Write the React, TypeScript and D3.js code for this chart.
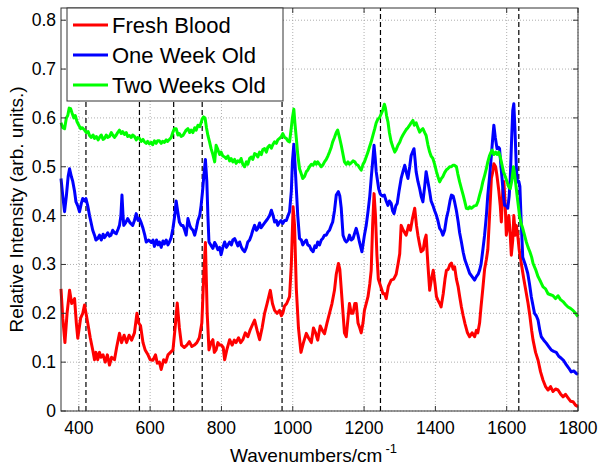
import React from 'react';
import * as d3 from 'd3';

const xTicks = [400, 600, 800, 1000, 1200, 1400, 1600, 1800];
const yTicks = [0, 0.1, 0.2, 0.3, 0.4, 0.5, 0.6, 0.7, 0.8];
const markerLines = [420, 570, 666, 746, 970, 1246, 1634];
const seriesNames = ['Fresh Blood', 'One Week Old', 'Two Weeks Old'];
const seriesColors = ['#ff0000', '#0000ff', '#00ff00'];

const freshBlood: [number, number][] = [[350,0.25],[355,0.19],[361,0.14],[367,0.2],[374,0.247],[380,0.22],[388,0.23],[393,0.18],[397,0.149],[405,0.19],[411,0.2],[416,0.217],[425,0.18],[432,0.15],[439,0.125],[444,0.105],[448,0.12],[453,0.105],[458,0.12],[462,0.11],[468,0.115],[474,0.1],[480,0.115],[486,0.094],[492,0.11],[500,0.105],[506,0.13],[514,0.159],[520,0.14],[527,0.155],[534,0.14],[541,0.155],[548,0.145],[556,0.16],[563,0.2],[568,0.18],[573,0.175],[580,0.14],[586,0.125],[594,0.115],[600,0.105],[608,0.104],[615,0.115],[620,0.098],[626,0.1],[631,0.085],[638,0.105],[644,0.1],[650,0.115],[657,0.12],[664,0.125],[670,0.17],[676,0.221],[682,0.17],[688,0.135],[696,0.13],[703,0.135],[710,0.142],[717,0.132],[724,0.135],[731,0.14],[738,0.15],[745,0.18],[750,0.27],[755,0.345],[760,0.2],[765,0.125],[771,0.14],[776,0.146],[780,0.12],[785,0.125],[790,0.14],[795,0.135],[800,0.135],[805,0.13],[809,0.105],[815,0.125],[823,0.146],[830,0.135],[836,0.145],[841,0.14],[848,0.15],[854,0.14],[860,0.146],[867,0.16],[874,0.152],[880,0.165],[886,0.175],[893,0.186],[900,0.165],[907,0.146],[914,0.17],[921,0.2],[928,0.22],[937,0.247],[943,0.22],[949,0.206],[956,0.2],[963,0.206],[968,0.195],[972,0.2],[977,0.215],[983,0.22],[991,0.234],[996,0.3],[1001,0.418],[1005,0.38],[1010,0.25],[1016,0.17],[1023,0.12],[1030,0.14],[1038,0.159],[1044,0.15],[1052,0.14],[1058,0.17],[1064,0.16],[1070,0.145],[1077,0.174],[1083,0.165],[1089,0.158],[1096,0.18],[1103,0.2],[1110,0.22],[1117,0.247],[1122,0.28],[1128,0.302],[1132,0.29],[1136,0.25],[1141,0.2],[1145,0.16],[1150,0.152],[1155,0.19],[1159,0.22],[1164,0.2],[1169,0.2],[1174,0.22],[1178,0.22],[1183,0.18],[1188,0.17],[1192,0.16],[1197,0.18],[1201,0.206],[1206,0.22],[1211,0.234],[1216,0.26],[1220,0.288],[1224,0.38],[1228,0.445],[1232,0.4],[1236,0.32],[1240,0.27],[1244,0.261],[1249,0.25],[1253,0.24],[1258,0.24],[1262,0.23],[1268,0.255],[1276,0.268],[1283,0.27],[1290,0.28],[1295,0.3],[1300,0.322],[1304,0.38],[1310,0.37],[1318,0.36],[1325,0.38],[1330,0.37],[1336,0.395],[1342,0.415],[1347,0.38],[1351,0.36],[1356,0.34],[1360,0.326],[1366,0.33],[1370,0.35],[1374,0.36],[1379,0.3],[1384,0.247],[1389,0.27],[1394,0.288],[1399,0.26],[1403,0.234],[1407,0.227],[1412,0.22],[1416,0.213],[1422,0.24],[1427,0.27],[1431,0.288],[1436,0.29],[1441,0.3],[1445,0.303],[1450,0.29],[1454,0.295],[1459,0.27],[1464,0.254],[1468,0.235],[1473,0.213],[1478,0.195],[1483,0.179],[1490,0.16],[1496,0.152],[1503,0.16],[1510,0.152],[1515,0.165],[1519,0.16],[1524,0.18],[1528,0.213],[1533,0.25],[1538,0.29],[1543,0.31],[1547,0.33],[1552,0.4],[1557,0.476],[1561,0.49],[1564,0.506],[1569,0.5],[1573,0.48],[1578,0.45],[1582,0.42],[1585,0.387],[1589,0.45],[1592,0.47],[1596,0.42],[1599,0.36],[1603,0.38],[1606,0.4],[1610,0.36],[1613,0.319],[1617,0.35],[1620,0.4],[1624,0.36],[1627,0.38],[1631,0.36],[1635,0.33],[1641,0.302],[1648,0.27],[1655,0.241],[1660,0.22],[1665,0.195],[1670,0.165],[1674,0.145],[1681,0.12],[1688,0.104],[1695,0.08],[1702,0.063],[1709,0.05],[1716,0.043],[1723,0.05],[1730,0.04],[1737,0.045],[1744,0.043],[1751,0.035],[1758,0.029],[1765,0.034],[1772,0.027],[1779,0.02],[1786,0.019],[1793,0.012],[1800,0.009]];

const oneWeekOld: [number, number][] = [[350,0.476],[355,0.44],[360,0.408],[365,0.44],[370,0.48],[374,0.496],[379,0.48],[383,0.47],[388,0.45],[392,0.428],[397,0.42],[402,0.408],[407,0.425],[411,0.435],[416,0.43],[420,0.435],[425,0.42],[430,0.4],[434,0.387],[439,0.37],[444,0.36],[448,0.35],[453,0.353],[458,0.36],[463,0.35],[468,0.362],[472,0.355],[477,0.36],[481,0.365],[486,0.358],[490,0.36],[495,0.37],[500,0.365],[505,0.363],[510,0.372],[514,0.38],[518,0.4],[521,0.442],[524,0.4],[526,0.38],[531,0.385],[537,0.394],[544,0.385],[551,0.38],[556,0.39],[561,0.404],[566,0.39],[570,0.394],[575,0.385],[580,0.374],[585,0.36],[589,0.346],[596,0.35],[603,0.345],[608,0.35],[612,0.337],[618,0.35],[622,0.34],[626,0.346],[631,0.335],[636,0.348],[640,0.342],[645,0.35],[650,0.34],[654,0.346],[659,0.355],[664,0.374],[669,0.4],[673,0.43],[677,0.41],[682,0.387],[687,0.38],[692,0.38],[697,0.37],[701,0.36],[706,0.394],[711,0.38],[715,0.374],[720,0.37],[725,0.36],[730,0.375],[734,0.39],[739,0.4],[743,0.421],[747,0.45],[750,0.476],[755,0.515],[759,0.47],[762,0.4],[765,0.346],[770,0.34],[776,0.333],[781,0.345],[785,0.34],[790,0.33],[795,0.335],[799,0.32],[804,0.335],[809,0.346],[814,0.335],[818,0.34],[823,0.346],[828,0.34],[832,0.35],[837,0.353],[842,0.345],[846,0.338],[851,0.346],[856,0.335],[860,0.33],[865,0.326],[870,0.335],[874,0.346],[879,0.35],[884,0.36],[888,0.37],[893,0.38],[898,0.37],[902,0.374],[907,0.385],[911,0.375],[916,0.38],[921,0.385],[926,0.39],[930,0.394],[935,0.4],[940,0.411],[945,0.4],[949,0.387],[954,0.39],[958,0.38],[963,0.387],[967,0.39],[972,0.384],[977,0.39],[982,0.39],[987,0.4],[991,0.408],[996,0.45],[999,0.51],[1003,0.546],[1006,0.51],[1010,0.455],[1014,0.4],[1019,0.353],[1024,0.35],[1028,0.34],[1033,0.346],[1038,0.35],[1042,0.34],[1047,0.338],[1052,0.33],[1057,0.326],[1062,0.338],[1066,0.335],[1070,0.346],[1075,0.34],[1080,0.35],[1084,0.353],[1089,0.36],[1094,0.36],[1099,0.367],[1103,0.37],[1108,0.38],[1112,0.387],[1117,0.41],[1122,0.442],[1128,0.449],[1132,0.44],[1136,0.415],[1141,0.36],[1146,0.35],[1150,0.346],[1155,0.35],[1159,0.36],[1164,0.35],[1169,0.353],[1174,0.365],[1178,0.374],[1183,0.36],[1187,0.346],[1194,0.326],[1201,0.36],[1206,0.38],[1211,0.408],[1216,0.44],[1220,0.476],[1224,0.51],[1228,0.544],[1231,0.52],[1234,0.49],[1238,0.47],[1241,0.455],[1245,0.445],[1248,0.442],[1252,0.44],[1257,0.442],[1262,0.43],[1267,0.421],[1271,0.43],[1276,0.425],[1280,0.41],[1284,0.404],[1289,0.42],[1293,0.425],[1298,0.45],[1304,0.476],[1309,0.49],[1314,0.503],[1318,0.49],[1323,0.476],[1328,0.5],[1332,0.523],[1336,0.53],[1340,0.537],[1343,0.515],[1346,0.49],[1351,0.47],[1356,0.455],[1360,0.44],[1365,0.428],[1370,0.46],[1374,0.49],[1379,0.47],[1384,0.449],[1388,0.43],[1393,0.421],[1398,0.41],[1403,0.4],[1407,0.39],[1412,0.374],[1416,0.37],[1421,0.36],[1426,0.37],[1431,0.394],[1436,0.41],[1441,0.43],[1445,0.442],[1450,0.44],[1454,0.428],[1459,0.41],[1464,0.387],[1468,0.365],[1473,0.346],[1478,0.325],[1483,0.309],[1490,0.295],[1496,0.282],[1503,0.275],[1510,0.268],[1515,0.275],[1520,0.28],[1524,0.288],[1528,0.3],[1533,0.329],[1538,0.36],[1543,0.4],[1547,0.442],[1552,0.48],[1557,0.523],[1561,0.56],[1564,0.585],[1568,0.56],[1573,0.537],[1577,0.54],[1580,0.537],[1584,0.5],[1587,0.476],[1591,0.44],[1594,0.421],[1599,0.42],[1603,0.415],[1607,0.44],[1610,0.476],[1614,0.56],[1617,0.615],[1620,0.629],[1623,0.58],[1627,0.5],[1630,0.469],[1634,0.47],[1637,0.46],[1640,0.4],[1645,0.315],[1652,0.3],[1659,0.282],[1664,0.26],[1669,0.234],[1674,0.215],[1678,0.2],[1683,0.195],[1688,0.186],[1693,0.165],[1697,0.152],[1704,0.145],[1711,0.139],[1718,0.132],[1725,0.125],[1732,0.122],[1739,0.12],[1746,0.112],[1753,0.108],[1760,0.103],[1767,0.095],[1774,0.088],[1781,0.08],[1788,0.082],[1795,0.077],[1800,0.075]];

const twoWeeksOld: [number, number][] = [[350,0.59],[355,0.58],[360,0.578],[365,0.6],[369,0.605],[373,0.62],[377,0.619],[381,0.61],[386,0.6],[390,0.605],[395,0.592],[400,0.585],[405,0.578],[410,0.58],[416,0.575],[421,0.57],[426,0.572],[430,0.564],[435,0.56],[440,0.565],[444,0.558],[449,0.562],[454,0.555],[458,0.56],[463,0.565],[468,0.556],[472,0.558],[477,0.565],[481,0.56],[486,0.562],[491,0.57],[495,0.565],[500,0.56],[505,0.565],[509,0.57],[514,0.575],[519,0.568],[523,0.572],[528,0.566],[533,0.57],[537,0.562],[542,0.564],[547,0.56],[551,0.565],[556,0.562],[561,0.555],[565,0.56],[570,0.558],[575,0.552],[580,0.556],[584,0.551],[589,0.548],[593,0.552],[598,0.547],[603,0.55],[607,0.545],[612,0.553],[617,0.548],[621,0.553],[626,0.553],[631,0.548],[635,0.552],[640,0.55],[645,0.555],[649,0.552],[654,0.556],[659,0.56],[664,0.571],[668,0.578],[673,0.578],[678,0.565],[682,0.568],[687,0.562],[692,0.564],[697,0.57],[701,0.575],[706,0.578],[711,0.57],[715,0.575],[720,0.57],[725,0.58],[729,0.575],[734,0.585],[739,0.582],[743,0.59],[746,0.598],[750,0.602],[754,0.6],[758,0.58],[762,0.564],[767,0.55],[771,0.537],[776,0.525],[781,0.51],[785,0.544],[790,0.535],[795,0.525],[799,0.53],[804,0.522],[809,0.52],[813,0.517],[818,0.522],[823,0.512],[827,0.517],[832,0.51],[837,0.515],[841,0.507],[846,0.512],[851,0.51],[855,0.517],[860,0.505],[865,0.5],[870,0.51],[874,0.505],[879,0.517],[884,0.52],[888,0.515],[893,0.527],[898,0.525],[902,0.52],[907,0.53],[912,0.525],[916,0.535],[921,0.537],[926,0.53],[930,0.54],[935,0.544],[940,0.538],[944,0.545],[949,0.551],[954,0.548],[958,0.555],[963,0.558],[968,0.562],[972,0.568],[977,0.56],[982,0.558],[986,0.553],[991,0.551],[996,0.58],[999,0.6],[1003,0.618],[1006,0.59],[1010,0.558],[1014,0.525],[1019,0.496],[1024,0.485],[1028,0.476],[1033,0.48],[1038,0.49],[1042,0.493],[1047,0.5],[1052,0.505],[1057,0.503],[1062,0.51],[1066,0.505],[1070,0.51],[1075,0.505],[1080,0.5],[1084,0.503],[1089,0.51],[1094,0.515],[1099,0.523],[1103,0.53],[1108,0.54],[1112,0.551],[1117,0.56],[1122,0.57],[1126,0.575],[1131,0.56],[1136,0.544],[1141,0.525],[1145,0.51],[1150,0.505],[1155,0.51],[1159,0.505],[1164,0.508],[1169,0.512],[1174,0.51],[1178,0.505],[1183,0.503],[1188,0.497],[1192,0.493],[1197,0.505],[1201,0.51],[1206,0.52],[1211,0.53],[1215,0.54],[1220,0.551],[1225,0.565],[1230,0.578],[1234,0.59],[1239,0.598],[1243,0.6],[1248,0.608],[1252,0.615],[1257,0.628],[1260,0.62],[1263,0.605],[1267,0.592],[1271,0.57],[1276,0.551],[1281,0.54],[1286,0.53],[1290,0.535],[1295,0.544],[1300,0.55],[1304,0.558],[1309,0.565],[1314,0.571],[1318,0.576],[1323,0.58],[1328,0.585],[1332,0.59],[1337,0.595],[1341,0.585],[1346,0.59],[1351,0.58],[1356,0.571],[1360,0.575],[1365,0.578],[1370,0.57],[1374,0.564],[1379,0.545],[1384,0.53],[1388,0.522],[1393,0.517],[1398,0.505],[1403,0.49],[1407,0.48],[1412,0.469],[1416,0.475],[1421,0.48],[1426,0.488],[1431,0.494],[1435,0.496],[1440,0.5],[1445,0.5],[1449,0.503],[1454,0.503],[1459,0.5],[1463,0.485],[1468,0.469],[1473,0.455],[1478,0.442],[1482,0.43],[1487,0.415],[1492,0.414],[1496,0.418],[1501,0.415],[1506,0.418],[1510,0.42],[1515,0.421],[1520,0.43],[1524,0.442],[1529,0.455],[1533,0.469],[1538,0.482],[1543,0.496],[1547,0.51],[1552,0.523],[1556,0.53],[1559,0.534],[1564,0.525],[1569,0.53],[1573,0.525],[1578,0.53],[1582,0.52],[1585,0.51],[1588,0.5],[1591,0.49],[1596,0.48],[1601,0.469],[1605,0.46],[1610,0.455],[1614,0.47],[1619,0.5],[1623,0.48],[1627,0.455],[1631,0.43],[1636,0.4],[1640,0.385],[1645,0.374],[1650,0.36],[1655,0.346],[1660,0.335],[1665,0.326],[1670,0.315],[1674,0.302],[1681,0.29],[1688,0.275],[1695,0.265],[1702,0.254],[1709,0.25],[1716,0.24],[1723,0.238],[1730,0.236],[1737,0.23],[1744,0.236],[1751,0.228],[1758,0.224],[1765,0.218],[1772,0.213],[1779,0.21],[1786,0.206],[1793,0.2],[1800,0.193]];

const seriesData = [freshBlood, oneWeekOld, twoWeeksOld];

const W = 604;
const H = 469;
const margin = { left: 61, right: 26, top: 8, bottom: 58 };
const FONT = "'Liberation Sans', Arial, Helvetica, sans-serif";

export default function App() {
  const x = d3.scaleLinear().domain([350, 1800]).range([margin.left, W - margin.right]);
  const y = d3.scaleLinear().domain([0, 0.825]).range([H - margin.bottom, margin.top]);
  const line = d3
    .line<[number, number]>()
    .x((d) => x(d[0]))
    .y((d) => y(d[1]));
  const x0 = margin.left;
  const x1 = W - margin.right;
  const y0 = H - margin.bottom;
  const y1 = margin.top;
  const fmt = (v: number) => (v === 0 ? '0' : d3.format('.1f')(v));

  const legX = x0 + 6;
  const legW = 216;
  const legH = 93;

  return (
    <svg
      width={W}
      height={H}
      style={{ position: 'absolute', left: 0, top: 0, background: '#fff' }}
      fontFamily={FONT}
    >
      <rect x={0} y={0} width={W} height={H} fill="#fff" />
      {/* grid */}
      {xTicks.map((t) => (
        <line key={'gx' + t} x1={x(t)} x2={x(t)} y1={y0} y2={y1} stroke="#9a9a9a" strokeWidth={0.8} strokeDasharray="1,2" />
      ))}
      {yTicks.map((t) => (
        <line key={'gy' + t} x1={x0} x2={x1} y1={y(t)} y2={y(t)} stroke="#9a9a9a" strokeWidth={0.8} strokeDasharray="1,2" />
      ))}
      {/* dashed marker lines */}
      {markerLines.map((m) => (
        <line key={'m' + m} x1={x(m)} x2={x(m)} y1={y0} y2={y1} stroke="#000" strokeWidth={1.2} strokeDasharray="5,3" />
      ))}
      {/* series */}
      {seriesData.map((s, i) => (
        <path key={seriesNames[i]} d={line(s) || ''} fill="none" stroke={seriesColors[i]} strokeWidth={3} strokeLinejoin="round" />
      ))}
      {/* frame */}
      <rect x={x0} y={y1} width={x1 - x0} height={y0 - y1} fill="none" stroke="#333" strokeWidth={1} />
      {/* ticks */}
      {xTicks.map((t) => (
        <g key={'tx' + t}>
          <line x1={x(t)} x2={x(t)} y1={y0} y2={y0 - 5} stroke="#333" />
          <line x1={x(t)} x2={x(t)} y1={y1} y2={y1 + 5} stroke="#333" />
          <text x={x(t)} y={y0 + 22.5} textAnchor="middle" fontSize={17.5} fill="#000">
            {t}
          </text>
        </g>
      ))}
      {yTicks.map((t) => (
        <g key={'ty' + t}>
          <line x1={x0} x2={x0 + 5} y1={y(t)} y2={y(t)} stroke="#333" />
          <line x1={x1} x2={x1 - 5} y1={y(t)} y2={y(t)} stroke="#333" />
          <text x={x0 - 5} y={y(t)} textAnchor="end" dominantBaseline="central" fontSize={17.5} fill="#000">
            {fmt(t)}
          </text>
        </g>
      ))}
      {/* axis labels */}
      <text x={(x0 + x1) / 2 - 6} y={y0 + 51} textAnchor="middle" fontSize={19} fill="#000">
        Wavenumbers/cm
        <tspan dx={3} dy={-9} fontSize={13}>-1</tspan>
      </text>
      <text
        transform={`translate(23, ${(y0 + y1) / 2}) rotate(-90)`}
        textAnchor="middle"
        fontSize={19}
        fill="#000"
      >
        Relative Intensity (arb. units.)
      </text>
      {/* legend */}
      <g>
        <rect x={legX} y={y1} width={legW} height={legH} fill="#fff" stroke="#333" strokeWidth={1} />
        {seriesNames.map((n, i) => {
          const cy = y1 + 17 + i * 30;
          return (
            <g key={'leg' + n}>
              <line x1={legX + 6} x2={legX + 41} y1={cy} y2={cy} stroke={seriesColors[i]} strokeWidth={3} />
              <text x={legX + 45} y={cy} dominantBaseline="central" fontSize={22} fill="#000">
                {n}
              </text>
            </g>
          );
        })}
      </g>
    </svg>
  );
}
